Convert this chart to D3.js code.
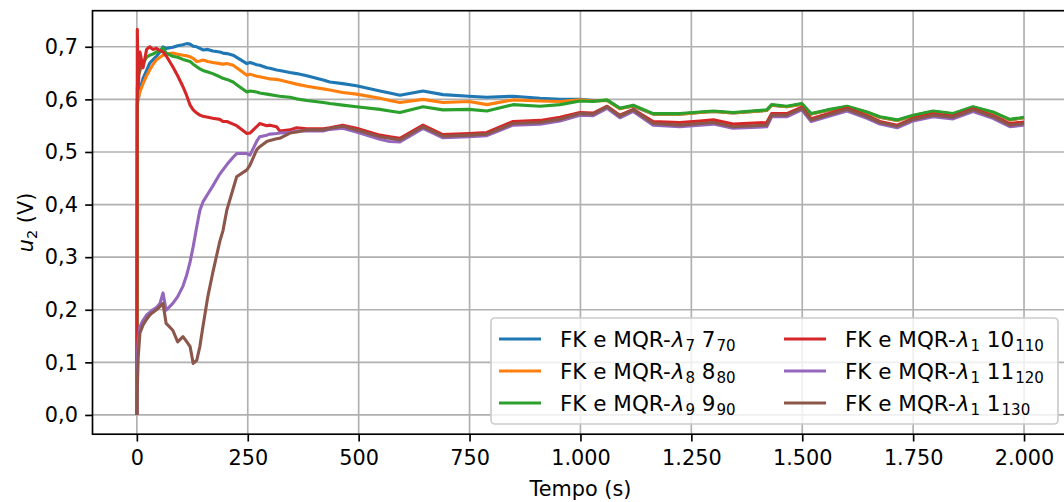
<!DOCTYPE html>
<html>
<head>
<meta charset="utf-8">
<script src="https://cdn.jsdelivr.net/npm/d3@7/dist/d3.min.js"></script>
<style>
  html, body { margin: 0; padding: 0; background: #fff; }
  svg { display: block; font-family: "DejaVu Sans", sans-serif; }
</style>
</head>
<body>
<svg id="chart" width="1064" height="502"></svg>
<script>
// Time samples (s)
const tempo = [
  0, 1, 3, 7, 14, 22, 29, 36, 44, 52,
  59, 66, 81, 92, 104, 112, 120, 127, 135, 142,
  149, 160, 171, 187, 194, 203, 217, 225, 248, 255,
  270, 277, 293, 300, 315, 322, 345, 360, 383, 420,
  435, 464, 495, 548, 570, 593, 645, 690, 749, 789,
  848, 909, 954, 999, 1029, 1060, 1089, 1119, 1164, 1224,
  1269, 1300, 1344, 1420, 1431, 1465, 1499, 1520, 1556, 1601,
  1646, 1675, 1714, 1750, 1795, 1840, 1885, 1930, 1968, 2000
];

// Control signal u2 (V) for each estimator configuration
const u2Lambda7 = [
  0, 0.600, 0.600, 0.618, 0.640, 0.655, 0.669, 0.675, 0.682, 0.690,
  0.700, 0.697, 0.699, 0.702, 0.704, 0.706, 0.705, 0.701, 0.700, 0.697,
  0.694, 0.695, 0.692, 0.690, 0.688, 0.687, 0.684, 0.680, 0.668, 0.670,
  0.666, 0.665, 0.660, 0.659, 0.656, 0.655, 0.651, 0.649, 0.645, 0.637,
  0.633, 0.630, 0.626, 0.616, 0.612, 0.608, 0.616, 0.609, 0.606, 0.604,
  0.606, 0.602, 0.600, 0.600, 0.598, 0.598, 0.583, 0.587, 0.572, 0.572,
  0.575, 0.577, 0.574, 0.579, 0.589, 0.586, 0.591, 0.572, 0.579, 0.586,
  0.575, 0.566, 0.560, 0.569, 0.577, 0.572, 0.585, 0.575, 0.561, 0.565
];
const u2Lambda8 = [
  0, 0.590, 0.600, 0.615, 0.630, 0.645, 0.656, 0.666, 0.675, 0.680,
  0.684, 0.686, 0.688, 0.686, 0.684, 0.683, 0.681, 0.678, 0.672, 0.673,
  0.675, 0.672, 0.670, 0.668, 0.667, 0.668, 0.665, 0.660, 0.646, 0.648,
  0.644, 0.643, 0.640, 0.639, 0.638, 0.637, 0.632, 0.629, 0.625, 0.620,
  0.618, 0.613, 0.610, 0.602, 0.598, 0.594, 0.600, 0.594, 0.596, 0.590,
  0.599, 0.597, 0.596, 0.599, 0.597, 0.598, 0.582, 0.588, 0.572, 0.572,
  0.575, 0.577, 0.574, 0.579, 0.589, 0.586, 0.591, 0.572, 0.579, 0.586,
  0.575, 0.566, 0.560, 0.569, 0.577, 0.572, 0.585, 0.575, 0.561, 0.565
];
const u2Lambda9 = [
  0, 0.620, 0.645, 0.655, 0.668, 0.680, 0.684, 0.686, 0.690, 0.692,
  0.698, 0.688, 0.682, 0.680, 0.676, 0.674, 0.672, 0.667, 0.662, 0.658,
  0.655, 0.652, 0.649, 0.643, 0.640, 0.638, 0.633, 0.628, 0.614, 0.616,
  0.614, 0.612, 0.610, 0.609, 0.607, 0.606, 0.604, 0.601, 0.598, 0.594,
  0.592, 0.589, 0.586, 0.581, 0.578, 0.575, 0.586, 0.580, 0.581, 0.578,
  0.590, 0.587, 0.590, 0.597, 0.596, 0.599, 0.583, 0.589, 0.573, 0.573,
  0.576, 0.578, 0.575, 0.580, 0.590, 0.587, 0.592, 0.573, 0.580, 0.587,
  0.576, 0.567, 0.561, 0.570, 0.578, 0.573, 0.586, 0.576, 0.562, 0.566
];
const u2Lambda1a = [
  0, 0.733, 0.620, 0.690, 0.660, 0.695, 0.700, 0.695, 0.697, 0.693,
  0.690, 0.683, 0.662, 0.645, 0.624, 0.608, 0.589, 0.580, 0.574, 0.570,
  0.568, 0.566, 0.564, 0.562, 0.558, 0.558, 0.553, 0.550, 0.535, 0.536,
  0.548, 0.554, 0.550, 0.551, 0.548, 0.540, 0.542, 0.546, 0.544, 0.544,
  0.546, 0.551, 0.545, 0.532, 0.529, 0.526, 0.551, 0.533, 0.535, 0.537,
  0.558, 0.560, 0.566, 0.575, 0.574, 0.587, 0.570, 0.581, 0.558, 0.556,
  0.559, 0.561, 0.553, 0.556, 0.573, 0.573, 0.585, 0.563, 0.572, 0.583,
  0.569, 0.558, 0.551, 0.564, 0.572, 0.568, 0.582, 0.569, 0.554, 0.557
];
const u2Lambda1b = [
  0, 0.099, 0.140, 0.168, 0.180, 0.190, 0.195, 0.200, 0.204, 0.212,
  0.232, 0.199, 0.212, 0.225, 0.245, 0.265, 0.291, 0.320, 0.358, 0.389,
  0.405, 0.420, 0.435, 0.458, 0.466, 0.476, 0.490, 0.497, 0.497, 0.494,
  0.520, 0.529, 0.532, 0.534, 0.535, 0.536, 0.537, 0.540, 0.540, 0.540,
  0.543, 0.545, 0.538, 0.524, 0.520, 0.519, 0.545, 0.527, 0.529, 0.531,
  0.551, 0.553, 0.559, 0.570, 0.569, 0.583, 0.565, 0.577, 0.551, 0.548,
  0.551, 0.553, 0.545, 0.548, 0.567, 0.567, 0.580, 0.558, 0.567, 0.578,
  0.564, 0.553, 0.546, 0.559, 0.567, 0.563, 0.577, 0.564, 0.548, 0.551
];
const u2Lambda1c = [
  0, 0.050, 0.110, 0.156, 0.171, 0.182, 0.190, 0.195, 0.200, 0.206,
  0.212, 0.174, 0.161, 0.139, 0.149, 0.140, 0.130, 0.098, 0.104, 0.130,
  0.168, 0.225, 0.270, 0.330, 0.350, 0.390, 0.430, 0.453, 0.466, 0.475,
  0.504, 0.510, 0.520, 0.522, 0.525, 0.526, 0.536, 0.538, 0.542, 0.542,
  0.545, 0.549, 0.542, 0.529, 0.526, 0.523, 0.548, 0.530, 0.532, 0.534,
  0.554, 0.556, 0.562, 0.573, 0.572, 0.586, 0.568, 0.580, 0.554, 0.551,
  0.554, 0.556, 0.548, 0.551, 0.570, 0.570, 0.583, 0.561, 0.570, 0.581,
  0.567, 0.556, 0.549, 0.562, 0.570, 0.566, 0.580, 0.567, 0.551, 0.554
];

// Legend label pieces: "FK e MQR-" λ_{idx} base_{sub}
const lambdaIdx = ["7", "8", "9", "1", "1", "1"];
const labelBase = ["7", "8", "9", "10", "11", "1"];
const labelSub = ["70", "80", "90", "110", "120", "130"];
const seriesColors = ["#1f77b4", "#ff7f0e", "#2ca02c", "#d62728", "#9467bd", "#8c564b"];

// Tick values
const xTicks = [0, 250, 500, 750, 1000, 1250, 1500, 1750, 2000];
const yTicks = [0, 0.1, 0.2, 0.3, 0.4, 0.5, 0.6, 0.7];

const seriesValues = [u2Lambda7, u2Lambda8, u2Lambda9, u2Lambda1a, u2Lambda1b, u2Lambda1c];

(function draw() {
  const FS = 20.8;
  const LFS = 21.5;
  const svg = d3.select("#chart");
  const pL = 92.5, pR = 1068.4, pT = 10.7, pB = 434.2;

  const x = d3.scaleLinear().domain([-100, 2100]).range([pL, pR]);
  const y = d3.scaleLinear().domain([-0.0366, 0.7686]).range([pB, pT]);

  const loc = d3.formatLocale({ decimal: ",", thousands: ".", grouping: [3], currency: ["", ""] });
  const fmtX = loc.format(",.0f");
  const fmtY = loc.format(".1f");

  // Clip for plot area
  svg.append("defs").append("clipPath").attr("id", "plotClip")
    .append("rect").attr("x", pL).attr("y", pT)
    .attr("width", pR - pL).attr("height", pB - pT);

  // Grid
  const grid = svg.append("g");
  grid.selectAll("line.gx").data(xTicks).join("line").attr("class", "gx")
    .attr("x1", d => x(d)).attr("x2", d => x(d))
    .attr("y1", pT).attr("y2", pB)
    .attr("stroke", "#b0b0b0").attr("stroke-width", 1.67);
  grid.selectAll("line.gy").data(yTicks).join("line").attr("class", "gy")
    .attr("x1", pL).attr("x2", pR)
    .attr("y1", d => y(d)).attr("y2", d => y(d))
    .attr("stroke", "#b0b0b0").attr("stroke-width", 1.67);

  // Lines
  const line = d3.line().x((d, i) => x(tempo[i])).y(d => y(d));
  const linesG = svg.append("g").attr("clip-path", "url(#plotClip)");
  seriesValues.forEach((vals, k) => {
    linesG.append("path")
      .attr("d", line(vals))
      .attr("fill", "none")
      .attr("stroke", seriesColors[k])
      .attr("stroke-width", 3.1)
      .attr("stroke-linejoin", "round");
  });

  // Axes
  const xAxis = d3.axisBottom(x).tickValues(xTicks).tickFormat(fmtX)
    .tickSize(7.3).tickSizeOuter(0).tickPadding(7.3);
  const yAxis = d3.axisLeft(y).tickValues(yTicks).tickFormat(fmtY)
    .tickSize(7.3).tickSizeOuter(0).tickPadding(7.3);

  const gx = svg.append("g").attr("transform", `translate(0,${pB})`).call(xAxis);
  const gy = svg.append("g").attr("transform", `translate(${pL},0)`).call(yAxis);
  [gx, gy].forEach(g => {
    g.select(".domain").remove();
    g.selectAll(".tick line").attr("stroke", "#000").attr("stroke-width", 1.67);
    g.selectAll(".tick text").attr("fill", "#000")
      .style("font-family", "DejaVu Sans").style("font-size", FS + "px");
  });
  gx.selectAll(".tick text").attr("dy", null).attr("y", 31);

  // Frame
  svg.append("rect").attr("x", pL).attr("y", pT)
    .attr("width", pR - pL).attr("height", pB - pT)
    .attr("fill", "none").attr("stroke", "#000").attr("stroke-width", 1.67);

  // Axis labels
  svg.append("text").attr("x", (pL + pR) / 2).attr("y", 496)
    .attr("text-anchor", "middle").style("font-size", FS + "px").text("Tempo (s)");

  const yl = svg.append("text")
    .attr("transform", `translate(33,${(pT + pB) / 2}) rotate(-90)`)
    .attr("text-anchor", "middle").style("font-size", FS + "px");
  yl.append("tspan").style("font-style", "italic").text("u");
  yl.append("tspan").attr("dy", 4).style("font-size", (FS * 0.7) + "px").text("2");
  yl.append("tspan").attr("dy", -4).text(" (V)");

  // Legend
  const lg = svg.append("g");
  lg.append("rect").attr("x", 491).attr("y", 318).attr("width", 567).attr("height", 106)
    .attr("rx", 4).attr("fill", "#fff").attr("fill-opacity", 0.8)
    .attr("stroke", "#cccccc").attr("stroke-width", 1.67);

  const colX = [499, 784];
  const rowY = [339, 371, 403];
  seriesColors.forEach((c, k) => {
    const cx = colX[Math.floor(k / 3)];
    const ry = rowY[k % 3];
    lg.append("line").attr("x1", cx).attr("x2", cx + 42).attr("y1", ry).attr("y2", ry)
      .attr("stroke", c).attr("stroke-width", 3.1);
    const t = lg.append("text").attr("x", cx + 61).attr("y", ry + 7.8)
      .style("font-size", LFS + "px");
    t.append("tspan").text("FK e MQR-");
    t.append("tspan").attr("dx", 1).style("font-style", "italic").text("λ");
    t.append("tspan").attr("dx", 1).attr("dy", 4.5).style("font-size", (LFS * 0.7) + "px").text(lambdaIdx[k]);
    t.append("tspan").attr("dy", -4.5).text("\u00a0" + labelBase[k]);
    t.append("tspan").attr("dx", 1).attr("dy", 4.5).style("font-size", (LFS * 0.7) + "px").text(labelSub[k]);
  });
})();
</script>
</body>
</html>
